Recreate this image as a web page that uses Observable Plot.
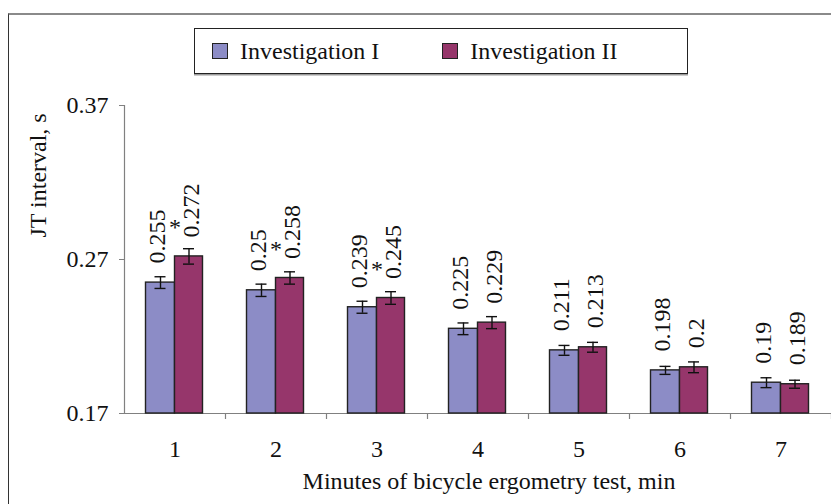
<!DOCTYPE html>
<html>
<head>
<meta charset="utf-8">
<script src="https://cdn.jsdelivr.net/npm/d3@7"></script>
<script src="https://cdn.jsdelivr.net/npm/@observablehq/plot@0.6"></script>
<style>
  html, body { margin: 0; padding: 0; background: #fff; }
  #wrap { position: relative; width: 831px; height: 504px; overflow: hidden; background: #fff;
          font-family: "Liberation Serif", "DejaVu Serif", serif; color: #111; }
  #frame { position: absolute; left: 8px; top: 13px; width: 900px; height: 600px;
           border-top: 2px solid #8a8a8a; border-left: 1px solid #333; box-sizing: border-box; }
  #chart { position: absolute; left: 0; top: 0; }
  #chart svg, #chart svg text { font-family: "Liberation Serif", "DejaVu Serif", serif !important; }
  #legend { position: absolute; left: 194px; top: 28px; width: 494px; height: 46px; box-sizing: border-box;
            border: 1.5px solid #222; box-shadow: 0 1.5px 0 #9a9a9a; background: #fff;
            display: flex; align-items: center; font-size: 24px; font-family: "Liberation Serif", "DejaVu Serif", serif; }
  .item { display: flex; align-items: center; }
  .sw { width: 16px; height: 16px; box-sizing: border-box; border: 1.2px solid #222; margin-right: 12px; }
</style>
</head>
<body>
<div id="wrap">
  <div id="frame"></div>
  <div id="chart"></div>
  <div id="legend"></div>
</div>
<script>
// ---- data ----
const minutes = ["1", "2", "3", "4", "5", "6", "7"];
const seriesNames = ["Investigation I", "Investigation II"];
const seriesColors = ["#8C8CC6", "#96366B"];
const investigationI = [0.255, 0.25, 0.239, 0.225, 0.211, 0.198, 0.19];
const investigationII = [0.272, 0.258, 0.245, 0.229, 0.213, 0.2, 0.189];
const errorI = [0.0038, 0.004, 0.0039, 0.0038, 0.0032, 0.0026, 0.0032];
const errorII = [0.005, 0.004, 0.0041, 0.0039, 0.0032, 0.0035, 0.0026];
const significance = ["*", "*", "*", "", "", "", ""];
const yTicks = [0.17, 0.27, 0.37];
const yDomain = [0.17, 0.37];
const xTitle = "Minutes of bicycle ergometry test, min";
const yTitle = "JT interval, s";

// ---- layout (styles only) ----
const layout = [
  {insetLeft: 21.5, insetRight: 50.5, dx: -14.5, capL: 30.5, capR: 59.5, labelDx: -18},
  {insetLeft: 50.5, insetRight: 22.5, dx: 14, capL: 59, capR: 31, labelDx: 16}
];
const halfStep = 50.5;
const FONT = "'Liberation Serif', 'DejaVu Serif', serif";
const FS = 24;

const values = [investigationI, investigationII];
const errors = [errorI, errorII];
const series = seriesNames.map((name, s) => ({
  name, color: seriesColors[s], lay: layout[s],
  rows: minutes.map((m, i) => ({minute: m, value: values[s][i], err: errors[s][i]}))
}));
const stars = minutes.map((m, i) => ({minute: m, value: investigationII[i], mark: significance[i]}))
  .filter(d => d.mark);

const marks = [];
marks.push(Plot.ruleY([yDomain[0]], {stroke: "#808080", strokeWidth: 1.2}));
marks.push(Plot.ruleX([minutes[0]], {x: d => d, dx: -halfStep, y1: yDomain[0], y2: yDomain[1], stroke: "#808080", strokeWidth: 1.2}));
marks.push(Plot.ruleX(minutes, {x: d => d, dx: halfStep, y1: yDomain[0], y2: yDomain[0], insetBottom: -6, stroke: "#808080", strokeWidth: 1.2}));
marks.push(Plot.axisY(yTicks, {tickSize: 5, tickPadding: 11, tickFormat: d => d.toFixed(2), stroke: "#808080", fill: "#111", fontSize: FS, fontFamily: FONT, label: null}));
marks.push(Plot.axisX({tickSize: 0, tickPadding: 26, fontSize: FS, fontFamily: FONT, fill: "#111", label: null}));

for (const s of series) {
  const L = s.lay;
  marks.push(Plot.barY(s.rows, {x: "minute", y1: yDomain[0], y2: "value", fill: s.color, stroke: "#222", strokeWidth: 1.4,
    insetLeft: L.insetLeft, insetRight: L.insetRight}));
  marks.push(Plot.ruleX(s.rows, {x: "minute", y1: d => d.value - d.err, y2: d => d.value + d.err, dx: L.dx, stroke: "#111", strokeWidth: 1.4}));
  marks.push(Plot.tickY(s.rows, {x: "minute", y: d => d.value + d.err, insetLeft: L.capL, insetRight: L.capR, stroke: "#111", strokeWidth: 1.4}));
  marks.push(Plot.tickY(s.rows, {x: "minute", y: d => d.value - d.err, insetLeft: L.capL, insetRight: L.capR, stroke: "#111", strokeWidth: 1.4}));
  marks.push(Plot.text(s.rows, {x: "minute", y: "value", text: d => String(d.value), rotate: -90, textAnchor: "start",
    dx: L.labelDx, dy: -19, fontSize: FS, fontFamily: FONT, fill: "#111"}));
}
marks.push(Plot.text(stars, {x: "minute", y: "value", text: "mark", dy: -29, fontSize: FS, fontFamily: FONT, fill: "#111"}));
marks.push(Plot.text([yTitle], {frameAnchor: "left", rotate: -90, dx: -86, dy: -22, fontSize: FS, fontFamily: FONT, fill: "#111"}));
marks.push(Plot.text([xTitle], {frameAnchor: "bottom", dx: 11, dy: 75, fontSize: FS, fontFamily: FONT, fill: "#111"}));

const chart = Plot.plot({
  width: 831, height: 504,
  marginLeft: 124, marginRight: 0, marginTop: 105, marginBottom: 91,
  x: {type: "band", domain: minutes, padding: 0, axis: null},
  y: {domain: yDomain, axis: null},
  style: {background: "transparent", fontFamily: FONT, fontSize: FS + "px", color: "#111"},
  marks
});
document.getElementById("chart").appendChild(chart);

const legend = document.getElementById("legend");
seriesNames.forEach((name, s) => {
  const item = document.createElement("div");
  item.className = "item";
  item.style.marginLeft = s === 0 ? "17px" : "63px";
  const sw = document.createElement("div");
  sw.className = "sw";
  sw.style.background = seriesColors[s];
  const label = document.createElement("span");
  label.textContent = name;
  item.appendChild(sw);
  item.appendChild(label);
  legend.appendChild(item);
});
</script>
</body>
</html>
